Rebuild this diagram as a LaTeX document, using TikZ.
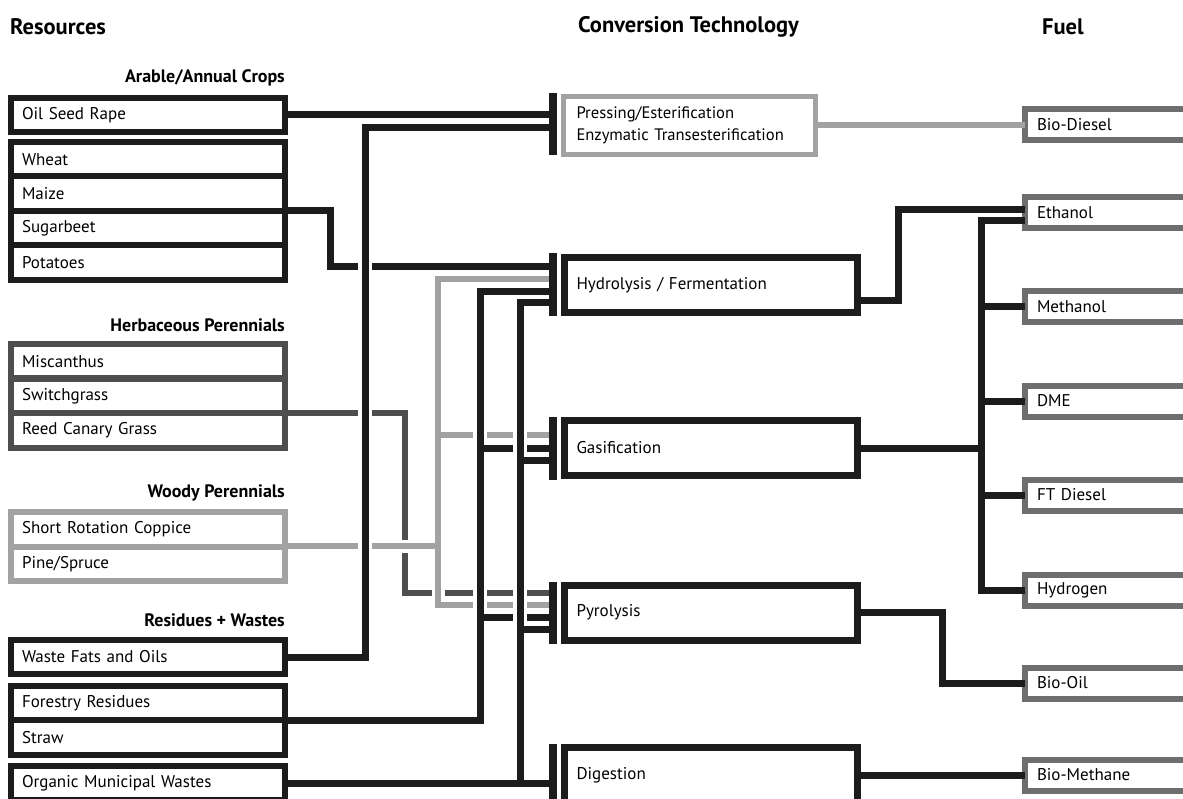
\documentclass[tikz,border=0pt]{standalone}
\usepackage{fontspec}
\setmainfont{PT Sans}
\definecolor{blk}{HTML}{1C1C1C}
\definecolor{dgr}{HTML}{4E4E4E}
\definecolor{lgr}{HTML}{A2A2A2}
\definecolor{fgr}{HTML}{6E6E6E}
\newcommand{\rowfont}{\fontsize{17}{19}\selectfont}
\newcommand{\hdrfont}{\fontsize{22.5}{25}\selectfont\bfseries}
\newcommand{\subfont}{\fontsize{18}{20}\selectfont\bfseries}
\tikzset{
  rowbox/.style={draw=#1, fill=white, line width=6pt, minimum width=274pt, minimum height=34.5pt,
    text width=252pt, inner xsep=11pt, inner ysep=0pt, align=left, anchor=west, outer sep=0pt, font=\rowfont},
  convbox/.style={draw=blk, fill=white, line width=7pt, minimum width=293pt, minimum height=55pt,
    text width=269pt, inner xsep=12pt, inner ysep=0pt, align=left, anchor=west, outer sep=0pt, font=\rowfont},
  fuelbox/.style={draw=fgr, fill=white, line width=6pt, minimum width=200pt, minimum height=31pt,
    text width=178pt, inner xsep=12pt, inner ysep=0pt, align=left, anchor=west, outer sep=0pt, font=\rowfont},
  bar/.style={fill=blk, minimum width=7.5pt, inner sep=0pt, outer sep=0pt},
  blkline/.style={draw=blk, line width=7pt},
  dgrline/.style={draw=dgr, line width=6pt},
  lgrline/.style={draw=lgr, line width=6pt},
  halo/.style={preaction={draw=white, line width=#1}},
  hdr/.style={font=\hdrfont, anchor=west, inner sep=0pt},
  sub/.style={font=\subfont, anchor=east, inner sep=0pt},
}
\begin{document}
\begin{tikzpicture}[x=1pt,y=-1pt,line join=miter]
\useasboundingbox (0,0) rectangle (1183,799);

% headers
\node[hdr] (hres) at (10,27) {Resources};
\node[hdr] (hconv) at (578,27) {Conversion Technology};
\node[hdr] (hfuel) at (1042,27) {Fuel};
\node[sub] (sarable) at (285,78) {Arable/Annual Crops};
\node[sub] (sherb) at (285,325) {Herbaceous Perennials};
\node[sub] (swood) at (285,493) {Woody Perennials};
\node[sub] (sres) at (285,620) {Residues + Wastes};

% coordinates for the bars
\coordinate (cP) at (553,124.5);
\coordinate (cH) at (553,285);
\coordinate (cG) at (553,448);
\coordinate (cY) at (553,612.5);
\coordinate (cD) at (553,775);

% junction coordinates
\coordinate (jsb) at (330,267);
\coordinate (jherb) at (405,593);
\coordinate (jwtop) at (438,279);
\coordinate (jwmid) at (438,435);
\coordinate (jwin) at (438,546.25);
\coordinate (jwbot) at (438,605);
\coordinate (jf1) at (480,292);
\coordinate (jf2) at (480,448);
\coordinate (jf3) at (480,617);
\coordinate (jo1) at (520,303);
\coordinate (jo2) at (520,460);
\coordinate (jo3) at (520,629);
\coordinate (jo4) at (520,783);
\coordinate (jwf) at (365,128);

% ---- left connectors (drawn before the boxes) ----
\draw[blkline] (285,211) -| (jsb) -- (cH |- jsb);
\draw[dgrline] (285,412.75) -| (jherb) -- (cY |- jherb);
\draw[lgrline, halo=13pt] (285,546.25) -- (jwin) -- (jwtop) -- (cH |- jwtop)
   (jwmid) -- (cG |- jwmid)
   (jwin) -- (jwbot) -- (cY |- jwbot);
\draw[blkline, halo=14pt] (285,720.25) -| (jf1) -- (cH |- jf1)
   (jf2) -- (cG |- jf2)
   (jf3) -- (cY |- jf3);
\draw[blkline, halo=14pt] (285,783) -- (cD |- jo4)
   (jo4) -- (jo1) -- (cH |- jo1)
   (jo2) -- (cG |- jo2)
   (jo3) -- (cY |- jo3);
\draw[blkline, halo=14pt] (285,657) -| (jwf) -- (cP |- jwf);
\draw[blkline] (285,114.5) -- (cP |- 0,114.5);

% ---- left boxes ----
\node[rowbox=blk] (osr) at (11,115.25) {Oil Seed Rape};
\node[rowbox=blk] (wheat) at (11,159.25) {Wheat};
\node[rowbox=blk] (maize) at (11,193.75) {Maize};
\node[rowbox=blk] (sugar) at (11,228.25) {Sugarbeet};
\node[rowbox=blk] (potato) at (11,262.75) {Potatoes};
\node[rowbox=dgr] (misc) at (11,361.25) {Miscanthus};
\node[rowbox=dgr] (switch) at (11,395.75) {Switchgrass};
\node[rowbox=dgr] (reed) at (11,430.25) {Reed Canary Grass};
\node[rowbox=lgr] (src) at (11,529.25) {Short Rotation Coppice};
\node[rowbox=lgr] (pine) at (11,563.75) {Pine/Spruce};
\node[rowbox=blk] (waste) at (11,657) {Waste Fats and Oils};
\node[rowbox=blk] (forest) at (11,703) {Forestry Residues};
\node[rowbox=blk] (straw) at (11,737.5) {Straw};
\node[rowbox=blk] (omw) at (11,783) {Organic Municipal Wastes};

% ---- bars ----
\node[bar, minimum height=62pt] (barP) at (cP) {};
\node[bar, minimum height=63pt] (barH) at (cH) {};
\node[bar, minimum height=63pt] (barG) at (cG) {};
\node[bar, minimum height=62pt] (barY) at (cY) {};
\node[bar, minimum height=63pt] (barD) at (cD) {};

% ---- fuel boxes ----
\node[fuelbox] (biodiesel) at (1025,125) {Bio-Diesel};
\node[fuelbox] (ethanol) at (1025,212.5) {Ethanol};
\node[fuelbox] (methanol) at (1025,307) {Methanol};
\node[fuelbox] (dme) at (1025,401) {DME};
\node[fuelbox] (ftd) at (1025,495) {FT Diesel};
\node[fuelbox] (hydrogen) at (1025,590) {Hydrogen};
\node[fuelbox] (biooil) at (1025,683) {Bio-Oil};
\node[fuelbox] (biometh) at (1025,775) {Bio-Methane};

% ---- conversion boxes ----
\node[convbox, draw=lgr, line width=5pt, minimum width=252pt, minimum height=58pt, text width=226pt, inner xsep=13pt,
      font=\fontsize{16.6}{22}\selectfont] (press) at (563.5,125.5)
      {Pressing/Esterification\\Enzymatic Transesterification};
\node[convbox] (hyd) at (564.5,285) {Hydrolysis / Fermentation};
\node[convbox] (gas) at (564.5,448) {Gasification};
\node[convbox] (pyr) at (564.5,612.5) {Pyrolysis};
\node[convbox] (dig) at (564.5,775) {Digestion};

% ---- right connectors ----
\coordinate (je1) at (898,301);
\coordinate (je2) at (898,209.5);
\coordinate (jv) at (981,221);
\coordinate (jpy) at (942,612.5);
\draw[lgrline] (press.east) -- (biodiesel.west |- press.east);
\draw[blkline] (hyd.east |- je1) -- (je1) -- (je2) -- (ethanol.west |- je2);
\draw[blkline] (ethanol.west |- jv) -- (jv) |- (hydrogen.west)
   (jv |- methanol.west) -- (methanol.west)
   (jv |- dme.west) -- (dme.west)
   (jv |- ftd.west) -- (ftd.west)
   (gas.east) -- (jv |- gas.east);
\draw[blkline] (pyr.east) -| (jpy |- biooil.west) -- (biooil.west);
\draw[blkline] (dig.east) -- (biometh.west);
\end{tikzpicture}
\end{document}
